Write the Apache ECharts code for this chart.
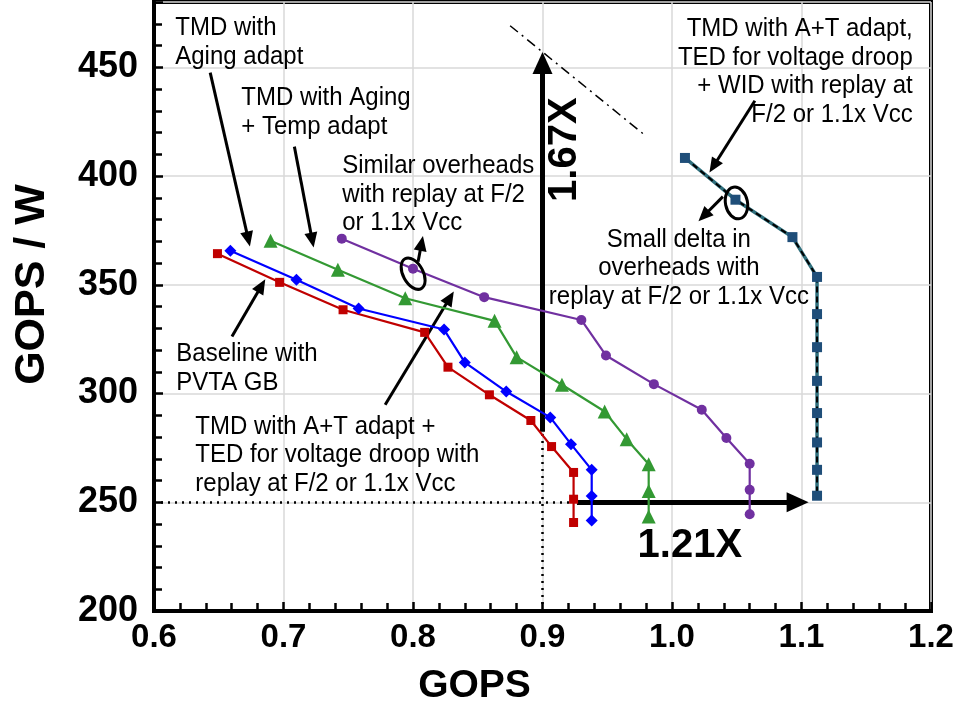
<!DOCTYPE html>
<html><head><meta charset="utf-8">
<script src="https://cdn.jsdelivr.net/npm/echarts@6/dist/echarts.min.js"></script>
<style>html,body{margin:0;padding:0;background:#fff}#c{width:959px;height:716px}</style>
</head><body><div id="c"></div>
<script>
// ---- data ----
const xTicks = [0.6, 0.7, 0.8, 0.9, 1.0, 1.1, 1.2];
const yTicks = [200, 250, 300, 350, 400, 450];

const baselineX = [0.649, 0.697, 0.746, 0.809, 0.827, 0.859, 0.891, 0.907, 0.924, 0.924, 0.924];
const baselineY = [364.3, 351.1, 338.5, 328.1, 312.1, 299.4, 287.6, 275.6, 263.7, 251.4, 240.7];

const agingX = [0.659, 0.710, 0.758, 0.824, 0.840, 0.872, 0.906, 0.922, 0.938, 0.938, 0.938];
const agingY = [365.6, 352.3, 339.1, 329.4, 314.3, 300.9, 289.0, 276.7, 264.9, 252.9, 241.6];

const agingTempX = [0.690, 0.742, 0.794, 0.863, 0.880, 0.915, 0.948, 0.965, 0.982, 0.982, 0.982];
const agingTempY = [370.2, 356.9, 343.8, 333.4, 316.7, 304.0, 291.7, 279.0, 267.5, 255.2, 243.4];

const atTedX = [0.745, 0.800, 0.855, 0.930, 0.949, 0.986, 1.023, 1.042, 1.060, 1.060, 1.060];
const atTedY = [371.2, 357.4, 344.3, 333.8, 317.5, 304.3, 292.5, 279.5, 267.7, 255.7, 244.5];

const atTedWidX = [1.010, 1.049, 1.093, 1.112, 1.112, 1.112, 1.112, 1.112, 1.112, 1.112, 1.112];
const atTedWidY = [408.3, 389.1, 371.9, 353.6, 336.5, 321.3, 305.8, 291.0, 277.5, 264.9, 253.0];

// ---- annotation texts ----
const txtAging = 'TMD with\nAging adapt';
const txtAgingTemp = 'TMD with Aging\n+ Temp adapt';
const txtSimilar = 'Similar overheads\nwith replay at F/2\nor 1.1x Vcc';
const txtWid = 'TMD with A+T adapt,\nTED for voltage droop\n+ WID with replay at\nF/2 or 1.1x Vcc';
const txtSmall = 'Small delta in\noverheads with\nreplay at F/2 or 1.1x Vcc';
const txtBase = 'Baseline with\nPVTA GB';
const txtTed = 'TMD with A+T adapt +\nTED for voltage droop with\nreplay at F/2 or 1.1x Vcc';
const txt167 = '1.67X';
const txt121 = '1.21X';

const FONT = '"Liberation Sans", Arial, sans-serif';
const pair = (xs, ys) => xs.map((x, i) => [x, ys[i]]);

const chart = echarts.init(document.getElementById('c'), null, {renderer: 'canvas'});

function lineSeries(name, xs, ys, color, symbol, size, extra) {
  return Object.assign({
    name, type: 'line', data: pair(xs, ys), symbol, symbolSize: size,
    lineStyle: {color, width: 2.2}, itemStyle: {color}, z: 5
  }, extra || {});
}

const option = {
  animation: false,
  backgroundColor: '#fff',
  grid: {left: 154, right: 28, top: 2, bottom: 105, show: true, borderColor: '#000', borderWidth: 4},
  xAxis: {
    type: 'value', min: xTicks[0], max: xTicks[xTicks.length - 1], interval: 0.1,
    name: 'GOPS', nameLocation: 'middle', nameGap: 56,
    nameTextStyle: {fontFamily: FONT, fontWeight: 'bold', fontSize: 39, color: '#000', padding: [0, 136, 0, 0]},
    axisLine: {show: true, lineStyle: {color: '#000', width: 4}},
    axisTick: {show: true, inside: true, length: 9, lineStyle: {color: '#000', width: 2.5}},
    minorTick: {show: true, splitNumber: 5, length: 8, lineStyle: {color: '#000', width: 2.5}},
    axisLabel: {fontFamily: FONT, fontWeight: 'bold', fontSize: 33, color: '#000', margin: 10,
      formatter: v => v.toFixed(1)},
    splitLine: {show: true, lineStyle: {color: '#d9d9d9', width: 1.5}},
    minorSplitLine: {show: false}
  },
  yAxis: {
    type: 'value', min: yTicks[0], max: 480, interval: 50,
    name: 'GOPS / W', nameLocation: 'middle', nameGap: 100,
    nameTextStyle: {fontFamily: FONT, fontWeight: 'bold', fontSize: 43, color: '#000', padding: [0, 0, 0, 44]},
    axisLine: {show: true, lineStyle: {color: '#000', width: 4}},
    axisTick: {show: true, inside: true, length: 9, lineStyle: {color: '#000', width: 2.5}},
    minorTick: {show: true, splitNumber: 5, length: 8, lineStyle: {color: '#000', width: 2.5}},
    axisLabel: {fontFamily: FONT, fontWeight: 'bold', fontSize: 36, color: '#000', margin: 16,
      showMaxLabel: false},
    splitLine: {show: true, lineStyle: {color: '#d9d9d9', width: 1.5}}
  },
  series: [
    lineSeries('Baseline with PVTA GB', baselineX, baselineY, '#C00000', 'rect', 9),
    lineSeries('TMD with Aging adapt', agingX, agingY, '#0000FF', 'diamond', 12),
    lineSeries('TMD with Aging + Temp adapt', agingTempX, agingTempY, '#339933', 'triangle', 14),
    lineSeries('TMD with A+T adapt + TED', atTedX, atTedY, '#7030A0', 'circle', 10),
    lineSeries('TMD with A+T + TED + WID (line)', atTedWidX, atTedWidY, '#2f6f7c', 'none', 0,
      {lineStyle: {color: '#2f6f7c', width: 3.5}, z: 4}),
    lineSeries('TMD with A+T adapt, TED + WID', atTedWidX, atTedWidY, '#1F4E79', 'rect', 10,
      {lineStyle: {color: '#000', width: 2, type: [6, 4]}}),
    // annotation guides
    {type: 'line', data: [], silent: true, z: 3,
      markLine: {silent: true, symbol: ['none', 'none'], label: {show: false},
        lineStyle: {color: '#000', width: 2.5, type: [2, 5]},
        data: [
          [{coord: [0.6, 250]}, {coord: [0.9235, 250]}],
          [{coord: [0.9, 200]}, {coord: [0.9, 282.4]}]
        ]}},
    {type: 'line', data: [], silent: true, z: 3,
      markLine: {silent: true, symbol: ['none', 'none'], label: {show: false},
        lineStyle: {color: '#000', width: 1.5, type: [10, 5, 2, 5]},
        data: [[{coord: [0.875, 469.1]}, {coord: [0.9796, 418.5]}]]}},
    {type: 'line', data: [], silent: true, z: 6,
      markLine: {silent: true, symbol: ['none', 'triangle'], symbolSize: [20, 22], label: {show: false},
        lineStyle: {color: '#000', width: 5, type: 'solid'},
        data: [
          [{coord: [0.9, 282.4]}, {coord: [0.9, 452]}],
          [{coord: [0.9266, 250]}, {coord: [1.097, 250]}]
        ]}},
    {type: 'line', data: [], silent: true, z: 6,
      markLine: {silent: true, symbol: ['none', 'triangle'], symbolSize: [13, 15], label: {show: false},
        lineStyle: {color: '#000', width: 3, type: 'solid'},
        data: [
          [{coord: [0.6434, 447.5]}, {coord: [0.6728, 371.0]}],
          [{coord: [0.7084, 413.5]}, {coord: [0.7222, 370.5]}],
          [{coord: [0.8039, 360.6]}, {coord: [0.8066, 369.0]}],
          [{coord: [0.7785, 294.8]}, {coord: [0.8285, 344.0]}],
          [{coord: [0.6602, 326.2]}, {coord: [0.6830, 349.5]}],
          [{coord: [1.0640, 434.6]}, {coord: [1.0320, 404.5]}],
          [{coord: [1.0393, 390.5]}, {coord: [1.0245, 381.6]}]
        ]}}
  ]
};
chart.setOption(option);

const P = (x, y) => chart.convertToPixel({gridIndex: 0}, [x, y]);
function textEl(str, x, y, align, opts) {
  const p = P(x, y);
  return Object.assign({
    type: 'text', x: p[0], y: p[1], z: 20, scaleY: 1.1,
    style: {text: str, fontFamily: FONT, fontSize: 24, lineHeight: 26, fill: '#000',
      align: align, verticalAlign: 'top'}
  }, opts || {});
}
function ellipseEl(x, y, rx, ry, rot) {
  const p = P(x, y);
  return {type: 'ellipse', x: p[0], y: p[1], rotation: rot, z: 20,
    shape: {cx: 0, cy: 0, rx: rx, ry: ry},
    style: {fill: 'none', stroke: '#000', lineWidth: 3}};
}
const g = [
  textEl(txtAging, 0.6164, 474.6, 'left'),
  textEl(txtAgingTemp, 0.6674, 442.4, 'left'),
  textEl(txtSimilar, 0.7453, 411.3, 'left'),
  textEl(txtWid, 1.1859, 474.2, 'right'),
  textEl(txtSmall, 1.0053, 377.5, 'center'),
  textEl(txtBase, 0.6172, 324.7, 'left'),
  textEl(txtTed, 0.6319, 291.5, 'left'),
  {type: 'text', x: P(0.9174, 412.1)[0], y: P(0.9174, 412.1)[1], rotation: Math.PI / 2, z: 20,
    style: {text: txt167, fontFamily: FONT, fontWeight: 'bold', fontSize: 40, fill: '#000',
      align: 'center', verticalAlign: 'middle'}},
  {type: 'text', x: P(1.0138, 229.9)[0], y: P(1.0138, 229.9)[1], z: 20,
    style: {text: txt121, fontFamily: FONT, fontWeight: 'bold', fontSize: 40, fill: '#000',
      align: 'center', verticalAlign: 'middle'}},
  ellipseEl(0.8001, 355.1, 10, 17, 0.5),
  ellipseEl(1.0498, 387.6, 11, 16, 0.2)
];
chart.setOption({graphic: g});
</script>
</body></html>
